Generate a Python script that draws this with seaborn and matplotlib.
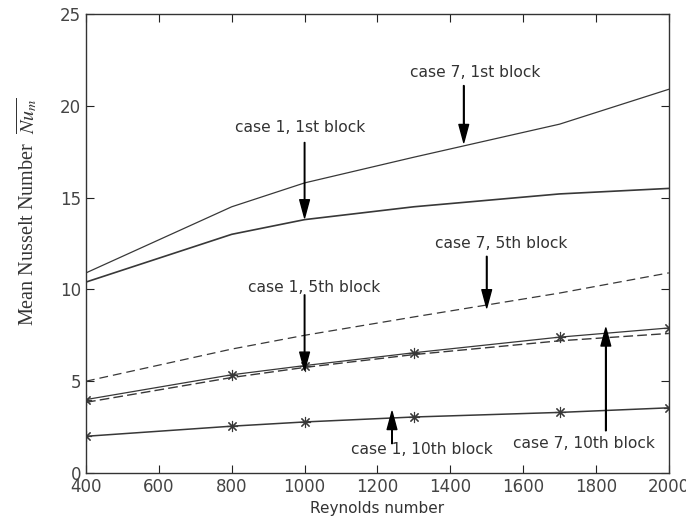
import numpy as np
import pandas as pd
import matplotlib
matplotlib.use("Agg")
import matplotlib.pyplot as plt
import seaborn as sns

# Données
reynolds = [400, 800, 1000, 1300, 1700, 2000]
case7_1st = [10.9, 14.5, 15.8, 17.2, 19.0, 20.9]
case1_1st = [10.4, 13.0, 13.8, 14.5, 15.2, 15.5]
case7_5th = [5.0, 6.75, 7.5, 8.5, 9.8, 10.9]
case1_5th = [4.0, 5.35, 5.85, 6.55, 7.4, 7.9]
case7_10th = [3.85, 5.2, 5.75, 6.45, 7.2, 7.6]
case1_10th = [2.0, 2.55, 2.78, 3.05, 3.3, 3.55]

line_color = "#383838"

sns.set_style("ticks")
plt.rcParams['font.family'] = ['DejaVu Sans']
plt.rcParams['mathtext.fontset'] = 'stix'

fig = plt.figure(figsize=(6.86, 5.32), dpi=100)
ax = fig.add_axes([0.1254, 0.1109, 0.8496, 0.8628])

sns.lineplot(x=reynolds, y=case7_1st, ax=ax, color=line_color, lw=0.9)
sns.lineplot(x=reynolds, y=case1_1st, ax=ax, color=line_color, lw=1.2)
sns.lineplot(x=reynolds, y=case7_5th, ax=ax, color=line_color, lw=0.9,
             linestyle=(0, (7, 4)))
sns.lineplot(x=reynolds, y=case7_10th, ax=ax, color=line_color, lw=1.0,
             linestyle=(0, (7, 3)))
sns.lineplot(x=reynolds, y=case1_5th, ax=ax, color=line_color, lw=0.9,
             marker=(8, 2, 0), markersize=8, markeredgewidth=0.8,
             markeredgecolor=line_color)
sns.lineplot(x=reynolds, y=case1_10th, ax=ax, color=line_color, lw=1.1,
             marker=(8, 2, 0), markersize=8, markeredgewidth=0.8,
             markeredgecolor=line_color)

ax.set_xlim(400, 2000)
ax.set_ylim(0, 25)
ax.set_xticks(range(400, 2001, 200))
ax.set_yticks(range(0, 26, 5))
ax.tick_params(direction='in', top=True, right=True, length=6,
               labelsize=12, colors="#222222", labelcolor="#444444")
for s in ax.spines.values():
    s.set_color("#333333")
    s.set_linewidth(1.0)

ax.set_xlabel("Reynolds number", fontsize=11, color="#333333")
ax.set_ylabel(r"Mean Nusselt Number  $\overline{Nu_m}$", fontsize=14.5,
              family=['Liberation Serif', 'DejaVu Serif'], color="#333333")
ax.yaxis.set_label_coords(-0.079, 0.569)

# Flèches et annotations
arrow = dict(facecolor='black', edgecolor='black', width=0.4,
             headwidth=7, headlength=13, shrink=0)
txt = dict(fontsize=11.2, color="#333333", ha='center', va='center')
ax.annotate("", xy=(1437, 18.0), xytext=(1437, 21.1), arrowprops=arrow)
ax.text(1467, 21.8, "case 7, 1st block", **txt)
ax.annotate("", xy=(1000, 13.9), xytext=(1000, 18.0), arrowprops=arrow)
ax.text(987, 18.8, "case 1, 1st block", **txt)
ax.annotate("", xy=(1500, 9.0), xytext=(1500, 11.8), arrowprops=arrow)
ax.text(1539, 12.5, "case 7, 5th block", **txt)
ax.annotate("", xy=(1000, 5.6), xytext=(1000, 9.7), arrowprops=arrow)
ax.text(1026, 10.1, "case 1, 5th block", **txt)
ax.annotate("", xy=(1240, 3.35), xytext=(1240, 1.6), arrowprops=arrow)
ax.text(1322, 1.3, "case 1, 10th block", **txt)
ax.annotate("", xy=(1827, 7.9), xytext=(1827, 2.3), arrowprops=arrow)
ax.text(1767, 1.6, "case 7, 10th block", **txt)

fig.savefig("out.png", dpi=100)
